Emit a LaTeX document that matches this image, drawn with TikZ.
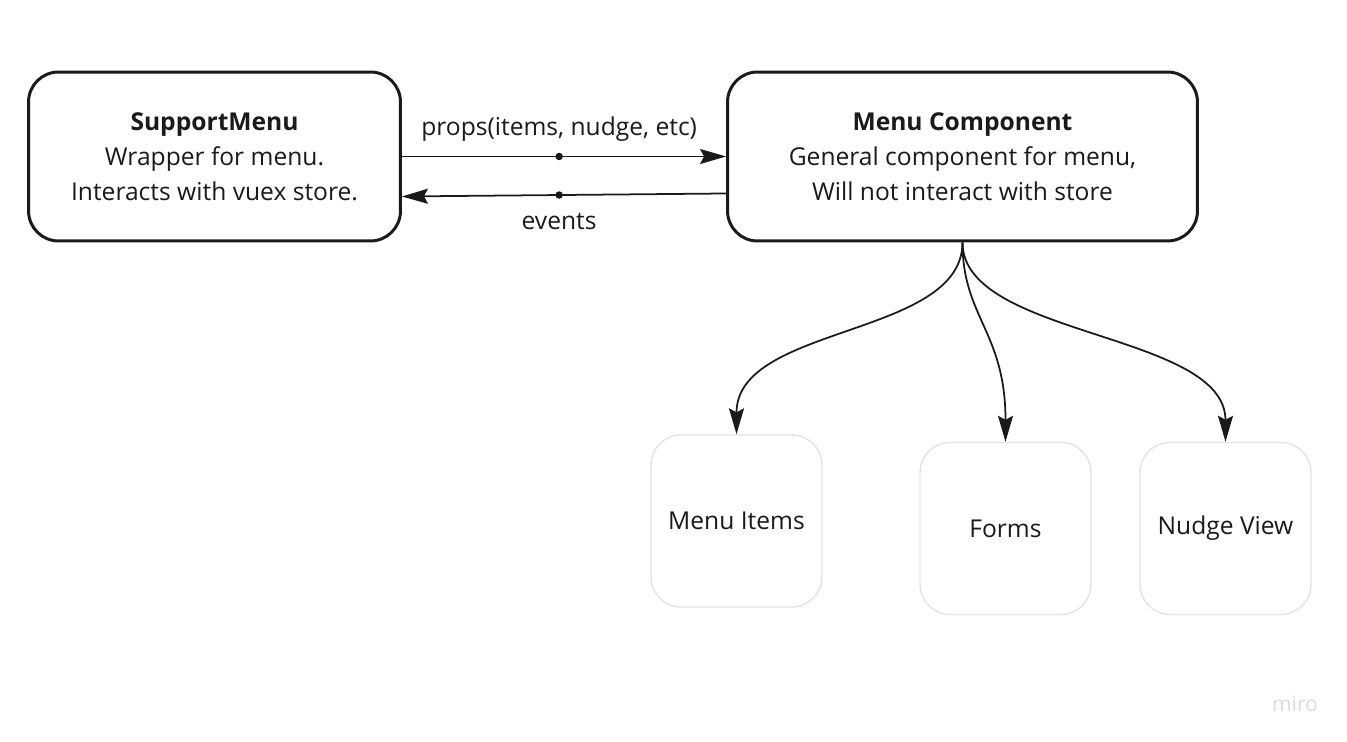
\documentclass[tikz,border=0pt]{standalone}
\usepackage{fontspec}
\setmainfont{Open Sans}
\usetikzlibrary{arrows.meta}

\definecolor{ink}{HTML}{1A1A1A}
\definecolor{pale}{HTML}{E3E3E3}

\tikzset{
  bigbox/.style={draw=ink, line width=1.7pt, rounded corners=0.6cm,
    minimum height=3.38cm, align=center, text=ink,
    font=\fontsize{14}{19.9}\selectfont},
  smallbox/.style={draw=pale, line width=0.8pt, rounded corners=0.6cm,
    minimum width=3.42cm, minimum height=3.44cm, text=ink,
    font=\fontsize{14}{17}\selectfont},
  link/.style={draw=ink, line width=1pt, -{Stealth[length=0.52cm, width=0.3cm, inset=0.08cm]}},
  dot/.style={circle, fill=ink, inner sep=0pt, minimum size=0.15cm},
  tag/.style={text=ink, font=\fontsize{14}{17}\selectfont}
}

\begin{document}
\begin{tikzpicture}[x=0.02cm, y=-0.02cm]
  \useasboundingbox (0,0) rectangle (1347,742);

  % Top row
  \node[bigbox, minimum width=7.44cm] (support) at (214.5,156.5) {\textbf{SupportMenu}\\Wrapper for menu.\\Interacts with vuex store.};
  \node[bigbox, minimum width=9.4cm] (menu) at (962.5,156.5) {\textbf{Menu Component}\\General component for menu,\\Will not interact with store};

  % Children
  \node[smallbox] (items) at (736.5,521) {Menu Items};
  \node[smallbox] (forms) at (1005.5,528.5) {Forms};
  \node[smallbox] (nudge) at (1225.5,528.5) {Nudge View};

  % Props and events
  \draw[link] (support.east) -- node[dot, pos=0.485] (propsdot) {} node[tag, pos=0.485, above=0.16cm] (props) {props(items, nudge, etc)} (menu.west);
  \draw[link] ([yshift=-0.74cm]menu.west) -- node[dot, pos=0.515] (eventsdot) {} node[tag, pos=0.515, below=0.24cm] (events) {events} ([yshift=-0.8cm]support.east);

  % Menu Component to children
  \draw[link] (menu.south) .. controls +(0,95) and +(0,-110) .. (items.north);
  \draw[link] (menu.south) .. controls +(0,75) and +(0,-110) .. (forms.north);
  \draw[link] (menu.south) .. controls +(0,95) and +(0,-110) .. (nudge.north);

  \node[text=gray!28, font=\fontsize{12}{14}\selectfont] (miro) at (1295,704) {miro};
\end{tikzpicture}
\end{document}
